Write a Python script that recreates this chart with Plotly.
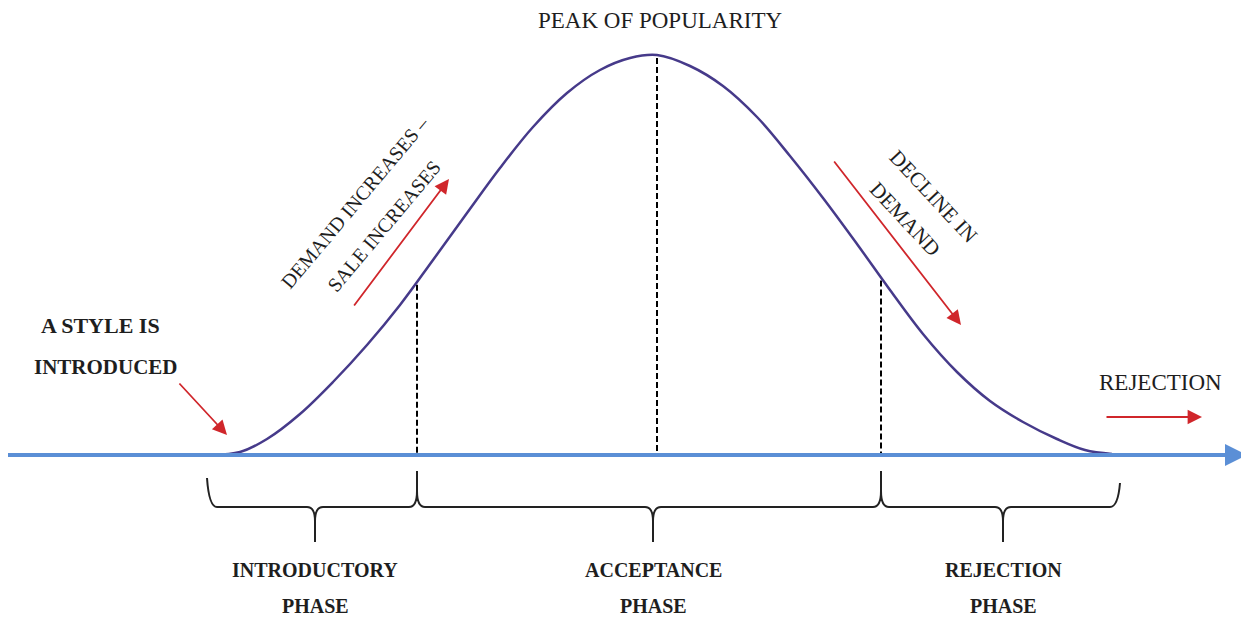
"""
Fashion life cycle diagram recreated with Plotly
"""

import numpy as np
import plotly.graph_objects as go

# Canvas works in pixel units so everything lines up with the reference
W, H = 1249, 619
PAGE_MARGIN = 8  # default body margin of the html page

# Popularity curve (x, y in pixels, y grows downward)
curve_x = [213, 240, 267, 300, 333, 367, 400, 433, 467, 500, 533, 567, 600,
           630, 657, 690, 723, 757, 790, 823, 857, 890, 923, 957, 990, 1023,
           1057, 1085, 1112]
curve_y = [455, 452, 439, 414, 382, 345, 305, 260, 213, 168, 127, 93, 70,
           58, 55, 66, 86, 117, 156, 198, 244, 290, 334, 372, 401, 422,
           439, 450, 454]

baseline_y = 455

# Phase boundaries (brace ends / cusps) and phase labels
phase_edges = [207, 417, 881, 1120]
phase_names = ['INTRODUCTORY', 'ACCEPTANCE', 'REJECTION']
phase_centers = [315, 653, 1003]
dashed_x = [417, 657, 881]

COLORS = {
    'curve': '#463a8a',
    'axis': '#5b8fd6',
    'red': '#d0262b',
    'text': '#1e1e1e',
}
SERIF = 'Liberation Serif'


def brace_path(edges, centers, y_line=507, y_tip=542, y_cusp=471, r=8):
    """Monta o caminho SVG das chaves sob o eixo"""
    x0 = edges[0]
    p = f'M {x0} 478 Q {x0 + 2} {y_line} {x0 + 10} {y_line} '
    for i, c in enumerate(centers):
        right = edges[i + 1]
        # tip pointing down at the middle of the phase
        p += f'L {c - r} {y_line} Q {c} {y_line} {c} {y_line + 14} L {c} {y_tip} '
        p += f'M {c} {y_line + 14} Q {c} {y_line} {c + r} {y_line} '
        if i < len(centers) - 1:
            # cusp pointing up at the boundary
            p += f'L {right - r} {y_line} Q {right} {y_line} {right} {y_line - 16} L {right} {y_cusp} '
            p += f'M {right} {y_line - 16} Q {right} {y_line} {right + r} {y_line} '
        else:
            p += f'L {right - 10} {y_line} Q {right - 2} {y_line} {right} 483'
    return p


fig = go.Figure()

fig.add_trace(go.Scatter(
    x=curve_x,
    y=curve_y,
    mode='lines',
    line=dict(color=COLORS['curve'], width=2.5, shape='spline', smoothing=1.0),
    hoverinfo='skip',
    showlegend=False,
))

shapes = []
for dx in dashed_x:
    top = float(np.interp(dx, curve_x, curve_y))
    shapes.append(dict(type='line', x0=dx, x1=dx, y0=top + 3, y1=baseline_y,
                       line=dict(color='black', width=2, dash='6px,3px'),
                       layer='below'))
shapes.append(dict(type='path', path=brace_path(phase_edges, phase_centers),
                   line=dict(color='#222222', width=2)))

annotations = []


def arrow(x_tail, y_tail, x_head, y_head, color, width, size):
    annotations.append(dict(
        x=x_head, y=y_head, ax=x_tail, ay=y_tail,
        xref='x', yref='y', axref='x', ayref='y',
        text='', showarrow=True, arrowhead=2, arrowsize=size,
        arrowwidth=width, arrowcolor=color, standoff=0,
    ))


def label(x, y, text, size, bold=False, angle=0):
    annotations.append(dict(
        x=x, y=y, xref='x', yref='y', text=f'<b>{text}</b>' if bold else text,
        showarrow=False, textangle=angle, xanchor='center', yanchor='middle',
        font=dict(family=SERIF, size=size, color=COLORS['text']),
    ))


# Base axis with arrow head
arrow(0, baseline_y, 1247, baseline_y, COLORS['axis'], 4, 1.1)

# Red pointer arrows
arrow(178, 382, 227, 435, COLORS['red'], 1.8, 1.6)
arrow(353, 307, 449, 179, COLORS['red'], 1.8, 1.6)
arrow(833, 160, 961, 325, COLORS['red'], 1.8, 1.6)
arrow(1105, 417, 1202, 417, COLORS['red'], 1.8, 1.6)

# Texts
label(660, 20, 'PEAK OF POPULARITY', 23)
label(1160, 382, 'REJECTION', 23)
label(100, 325, 'A STYLE IS', 22, bold=True)
label(106, 367, 'INTRODUCED', 21, bold=True)
label(355, 202, 'DEMAND INCREASES –', 20, angle=-50)
label(384, 226, 'SALE INCREASES', 20, angle=-50)
label(933, 196, 'DECLINE IN', 21, angle=47)
label(905, 219, 'DEMAND', 21, angle=47)

for name, cx in zip(phase_names, phase_centers):
    label(cx, 570, name, 20, bold=True)
    label(cx, 606, 'PHASE', 20, bold=True)

fig.update_layout(
    width=W,
    height=H,
    margin=dict(l=0, r=0, t=0, b=0),
    paper_bgcolor='white',
    plot_bgcolor='white',
    xaxis=dict(range=[PAGE_MARGIN, W + PAGE_MARGIN], visible=False, fixedrange=True),
    yaxis=dict(range=[H + PAGE_MARGIN, PAGE_MARGIN], visible=False, fixedrange=True),
    shapes=shapes,
    annotations=annotations,
    showlegend=False,
)

fig.write_html('out.html')
